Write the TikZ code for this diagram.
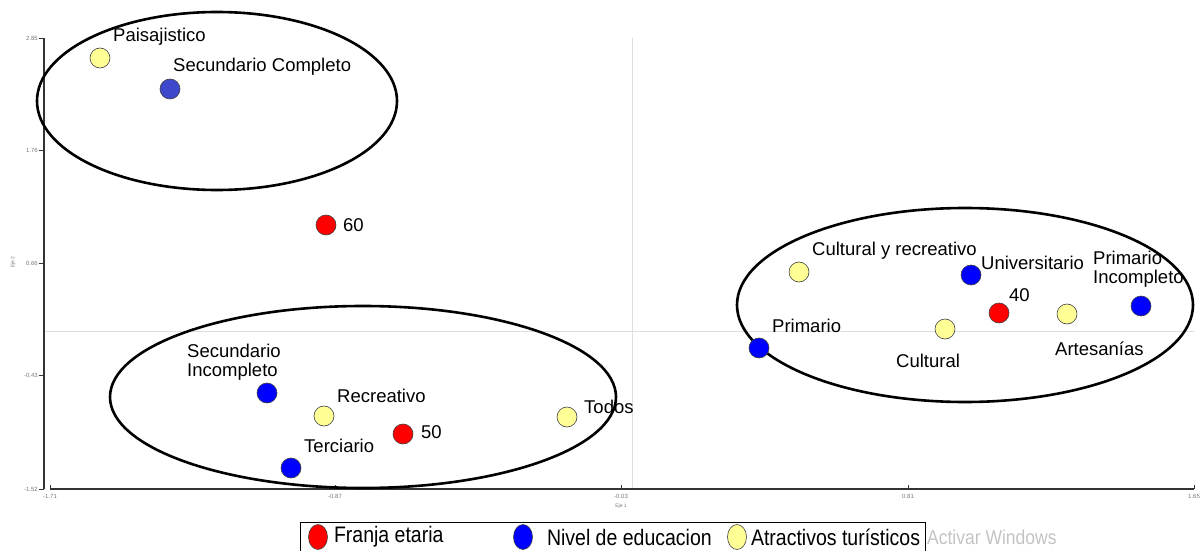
\documentclass[tikz,border=0pt]{standalone}
\usepackage{fontspec}
\setmainfont{Liberation Sans}
\usepackage{tikz}
\usetikzlibrary{positioning}
\usetikzlibrary{shapes.geometric}

\definecolor{franja}{RGB}{255,0,0}
\definecolor{nivel}{RGB}{0,0,255}
\definecolor{nivelsc}{RGB}{62,72,205}
\definecolor{atract}{RGB}{255,255,150}
\definecolor{guia}{RGB}{222,222,222}
\definecolor{marcagris}{RGB}{120,120,120}
\definecolor{windows}{RGB}{195,195,195}

\newcommand{\alto}[1]{\scalebox{1}[1.15]{#1}}

\tikzset{
	pto/.style={circle, draw=black!75, line width=0.6pt, minimum size=20pt, inner sep=0pt},
	edad/.style={pto, fill=franja},
	educ/.style={pto, fill=nivel},
	atrac/.style={pto, fill=atract},
	etiq/.style={anchor=base west, inner sep=0pt, font=\fontsize{18.5}{19}\selectfont, align=left},
	grupo/.style={draw=black, line width=2.6pt},
	eje/.style={draw=black!80, line width=1.1pt},
	marca/.style={inner sep=0pt, text=marcagris, font=\fontsize{6}{7}\selectfont},
	leyenda/.style={anchor=west, inner sep=0pt, font=\fontsize{19.5}{22}\selectfont},
	simb/.style={ellipse, draw=black!75, line width=0.6pt, minimum width=19pt, minimum height=25pt, inner sep=0pt}
}

\begin{document}
\begin{tikzpicture}[x=1pt,y=-1pt]
		\useasboundingbox (0,0) rectangle (1203,551);
		%\fill[white] (0,0) rectangle (1203,551);
		\draw[guia, line width=0.8pt] (44,331) -- (1194,331);
		\draw[guia, line width=0.8pt] (632,38) -- (632,489);
		\draw[eje] (44,38) -- (44,489);
		\draw[eje] (50,489) -- (1194,489);
		\foreach \y/\v in {38/2.85,150/1.76,263/0.66,375/-0.43,489/-1.52}
		{
			\draw[eje, line width=0.8pt] (39,\y) -- (44,\y);
			\node[marca, anchor=east] at (38,\y) {\v};
		}
		\foreach \x/\v in {50/-1.71,335/-0.87,621/-0.03,908/0.81,1194/1.65}
		{
			\draw[eje, line width=0.8pt] (\x,485) -- (\x,489);
			\node[marca, anchor=north] at (\x,494) {\v};
		}
		\node[marca, font=\fontsize{5}{6}\selectfont] (eje1) at (621,506) {Eje 1};
		\node[marca, font=\fontsize{5}{6}\selectfont, rotate=90] (eje2) at (13,262) {Eje 2};

		% grupos
		\draw[grupo] (217,101) ellipse (180 and 89);
		\draw[grupo] (363,397) ellipse (253 and 91);
		\draw[grupo] (965,305) ellipse (228 and 97);

		% puntos
		\node[atrac] (paisaj) at (100,58) {};
		\node[pto, fill=nivelsc] (seccomp) at (170,89) {};
		\node[edad] (e60) at (326,225) {};
		\node[educ] (secinc) at (267,393) {};
		\node[atrac] (recre) at (324,416) {};
		\node[edad] (e50) at (403,434) {};
		\node[educ] (terc) at (291,468) {};
		\node[atrac] (todos) at (567,417) {};
		\node[atrac] (culrec) at (799,272) {};
		\node[educ] (univ) at (971,275) {};
		\node[edad] (e40) at (999,313) {};
		\node[atrac] (artes) at (1067,314) {};
		\node[educ] (priminc) at (1141,306) {};
		\node[educ] (prim) at (759,348) {};
		\node[atrac] (cult) at (945,329) {};

		% etiquetas
		\node[etiq] (lpaisaj) at (113,42) {Paisajistico};
		\node[etiq] (lseccomp) at (173,72) {Secundario Completo};
		\node[etiq] (le60) at (343,231) {60};
		\node[etiq] (lsecinc) at (187,376) {Secundario\\Incompleto};
		\node[etiq] (lrecre) at (337,402) {Recreativo};
		\node[etiq] (le50) at (421,438) {50};
		\node[etiq] (lterc) at (304,452) {Terciario};
		\node[etiq] (ltodos) at (584,413) {Todos};
		\node[etiq] (lculrec) at (812,255) {Cultural y recreativo};
		\node[etiq] (luniv) at (981,269) {Universitario};
		\node[etiq] (lpriminc) at (1093,283) {Primario\\Incompleto};
		\node[etiq] (le40) at (1009,301) {40};
		\node[etiq] (lprim) at (772,332) {Primario};
		\node[etiq] (lcult) at (896,367) {Cultural};
		\node[etiq] (lartes) at (1055,355) {Artesanías};

		% leyenda
		\draw[black, line width=0.9pt] (300,551) -- (300,522) -- (925,522) -- (925,551);
		\node[simb, fill=franja] (sfranja) at (318,537) {};
		\node[leyenda, right=6pt of sfranja] (tfranja) {\alto{Franja etaria}};
		\node[simb, fill=nivel] (snivel) at (523,537) {};
		\node[leyenda, right=14pt of snivel] (tnivel) {\alto{Nivel de educacion}};
		\node[simb, fill=atract] (satract) at (737,537) {};
		\node[leyenda, right=4pt of satract] (tatract) {\alto{Atractivos turísticos}};
		\node[leyenda, text=windows, font=\fontsize{17.5}{20}\selectfont] (activar) at (927,537) {\alto{Activar Windows}};
		\end{tikzpicture}
\end{document}
